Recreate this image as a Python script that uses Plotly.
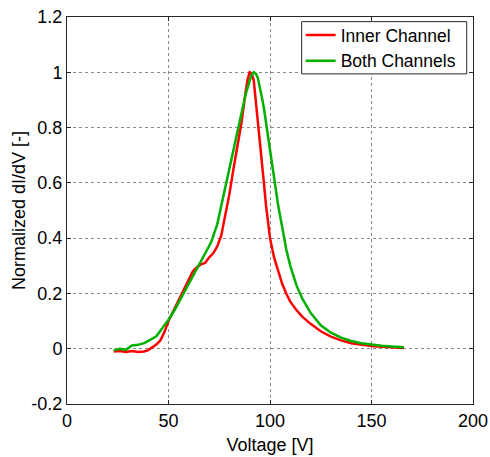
import plotly.graph_objects as go

# Inner Channel (red)
inner_v = [23, 26, 29, 32, 35, 38, 40, 42, 44, 46, 48, 50, 52, 54, 56, 58, 60, 62, 64, 66,
           68, 70, 72, 74, 76, 78, 80, 82, 84, 86, 88, 89, 90, 91, 92, 93, 94, 95, 96, 97,
           98, 99, 100, 102, 104, 106, 108, 110, 113, 116, 120, 125, 130, 135, 140, 145,
           150, 155, 160, 166]
inner_y = [-0.01, -0.008, -0.012, -0.008, -0.012, -0.01, -0.005, 0.005, 0.015, 0.03, 0.06,
           0.1, 0.13, 0.16, 0.19, 0.22, 0.25, 0.28, 0.295, 0.305, 0.31, 0.33, 0.345, 0.37,
           0.41, 0.48, 0.56, 0.65, 0.74, 0.82, 0.93, 0.975, 1.0, 0.995, 0.97, 0.9, 0.83,
           0.76, 0.68, 0.6, 0.52, 0.45, 0.4, 0.33, 0.28, 0.235, 0.2, 0.17, 0.14, 0.115, 0.09,
           0.063, 0.044, 0.03, 0.02, 0.014, 0.01, 0.007, 0.005, 0.003]

# Both Channels (green)
both_v = [23, 26, 29, 32, 35, 38, 41, 44, 47, 50, 53, 56, 59, 62, 65, 68, 71, 74, 77, 80,
          83, 86, 88, 90, 91, 92, 93, 94, 95, 96, 97, 98, 99, 100, 102, 104, 106, 108, 110,
          113, 116, 120, 125, 130, 135, 140, 145, 150, 155, 160, 166]
both_y = [-0.006, 0.0, -0.004, 0.012, 0.014, 0.02, 0.032, 0.045, 0.075, 0.105, 0.14, 0.18,
          0.22, 0.26, 0.3, 0.34, 0.385, 0.45, 0.55, 0.65, 0.76, 0.86, 0.92, 0.97, 0.99, 1.0,
          0.995, 0.98, 0.95, 0.91, 0.87, 0.82, 0.77, 0.72, 0.62, 0.52, 0.44, 0.36, 0.3, 0.23,
          0.18, 0.13, 0.085, 0.058, 0.04, 0.028, 0.02, 0.015, 0.011, 0.008, 0.005]

x_ticks = [0, 50, 100, 150, 200]
y_ticks = [-0.2, 0, 0.2, 0.4, 0.6, 0.8, 1, 1.2]
y_tick_text = ["-0.2", "0", "0.2", "0.4", "0.6", "0.8", "1", "1.2"]

font = "Liberation Sans, Arial, sans-serif"
FS = 18

fig = go.Figure()
fig.add_trace(go.Scatter(x=inner_v, y=inner_y, mode="lines", name="Inner Channel",
                         line=dict(color="rgb(255,0,0)", width=2.5)))
fig.add_trace(go.Scatter(x=both_v, y=both_y, mode="lines", name="Both Channels",
                         line=dict(color="rgb(0,176,0)", width=2.5)))

axis_common = dict(
    showline=True, linecolor="#262626", linewidth=1, mirror="allticks",
    ticks="inside", ticklen=4, tickcolor="#262626",
    showgrid=True, gridcolor="#8a8a8a", griddash="dot", gridwidth=1,
    zeroline=False, automargin=False,
    tickfont=dict(family=font, size=FS, color="black"),
)

fig.update_xaxes(range=[0, 200], tickvals=x_ticks,
                 title=dict(text="Voltage [V]", font=dict(family=font, size=FS, color="black"), standoff=8),
                 **axis_common)
fig.update_yaxes(range=[-0.2, 1.2], tickvals=y_ticks, ticktext=y_tick_text,
                 title=dict(text="Normalized dI/dV [-]", font=dict(family=font, size=FS, color="black"), standoff=1),
                 **axis_common)

# legend frame (white box with black border), drawn above the curves
fig.add_shape(type="rect", xref="paper", yref="paper",
              x0=0.578, x1=0.9845, y0=0.853, y1=0.988,
              fillcolor="white", line=dict(color="#262626", width=1), layer="above")

fig.update_layout(
    width=490, height=457, autosize=False,
    margin=dict(l=67, r=17, t=17, b=53, pad=0),
    paper_bgcolor="white", plot_bgcolor="white",
    font=dict(family=font, size=FS, color="black"),
    showlegend=True,
    legend=dict(x=0.972, y=1.0, xanchor="right", yanchor="top",
                bgcolor="rgba(0,0,0,0)", borderwidth=0,
                font=dict(family=font, size=17.5, color="black"),
                tracegroupgap=0, itemwidth=30),
)

fig.write_html("out.html")
